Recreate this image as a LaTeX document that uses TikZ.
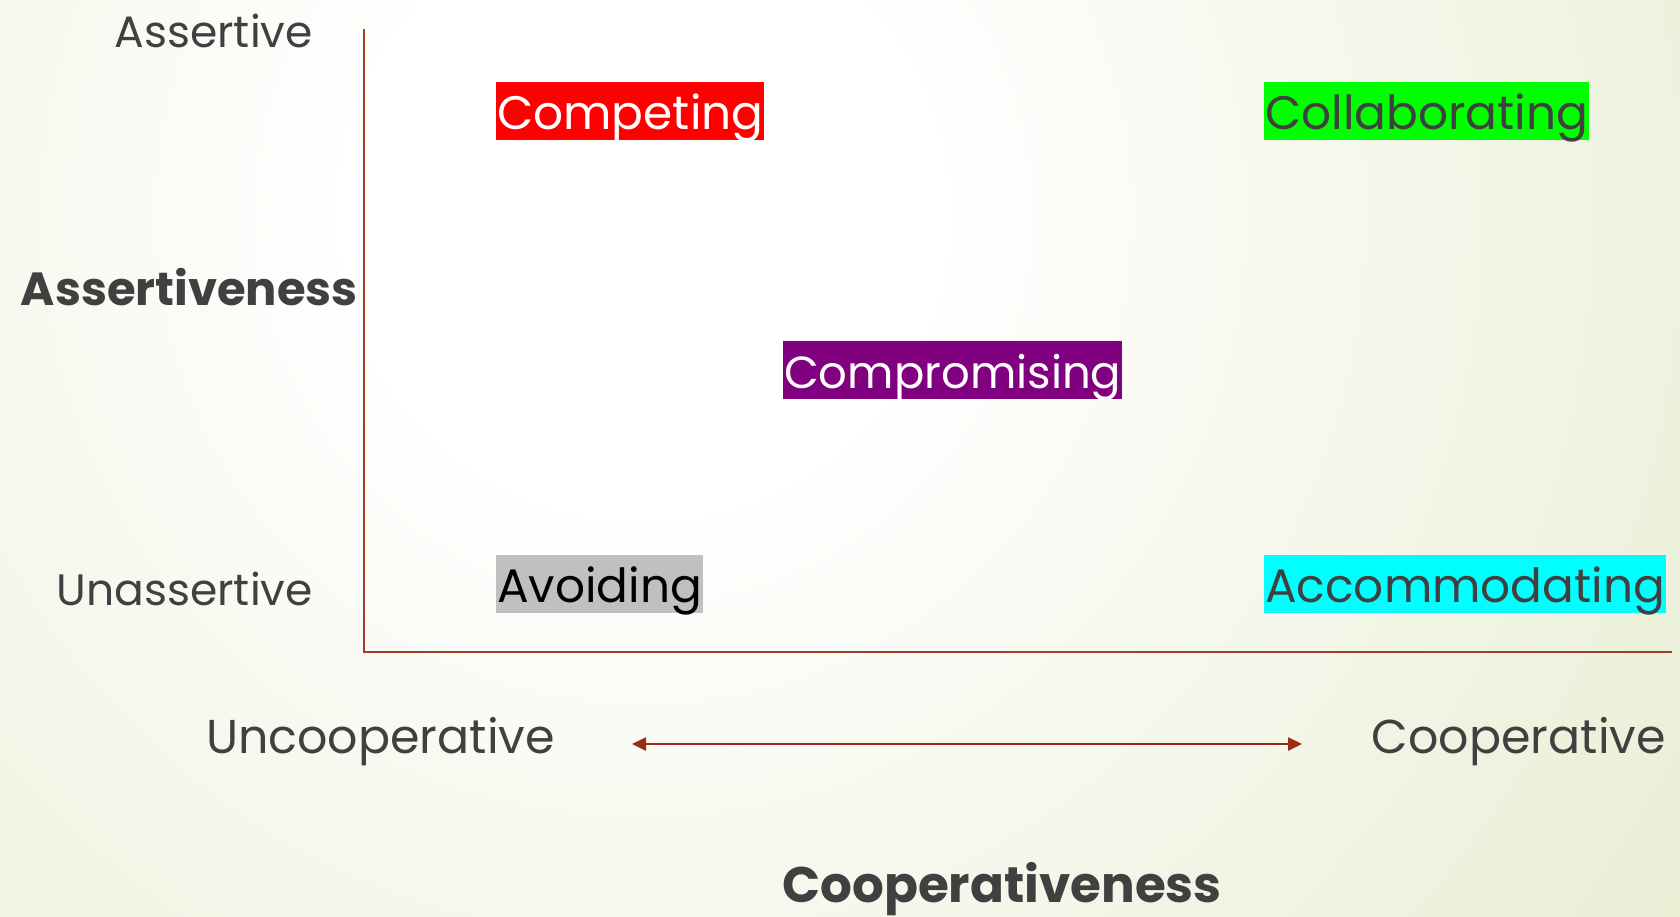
\documentclass[tikz,border=0pt]{standalone}
\usepackage{fontspec}
\setmainfont{Poppins}
\usetikzlibrary{arrows.meta}

\definecolor{ink}{HTML}{404040}
\definecolor{axisred}{HTML}{A63C24}
\definecolor{arrowred}{HTML}{9C2C14}
\definecolor{bgout}{HTML}{DDE6BF}
\definecolor{hlred}{HTML}{FF0000}
\definecolor{hlgreen}{HTML}{00FF00}
\definecolor{hlpurple}{HTML}{800080}
\definecolor{hlgray}{HTML}{C0C0C0}
\definecolor{hlcyan}{HTML}{00FFFF}

% soft white glow fading out to a pale green
\pgfdeclareradialshading{slideglow}{\pgfpoint{0bp}{0bp}}{%
  color(0bp)=(white); color(4bp)=(white); color(25bp)=(bgout); color(50bp)=(bgout)}

\begin{document}
\begin{tikzpicture}[x=1pt,y=-1pt,
  axislabel/.style={font=\fontsize{44}{48}\selectfont, text=ink, inner sep=0pt},
  rangelabel/.style={font=\fontsize{47.5}{52}\selectfont, text=ink, inner sep=0pt},
  axistitle/.style={font=\fontsize{50}{54}\selectfont\bfseries, text=ink, inner sep=0pt},
  modebox/.style={font=\fontsize{47}{52}\selectfont, inner xsep=1pt, inner ysep=0pt,
                  text height=47pt, text depth=11pt, anchor=base west},
  axisline/.style={draw=axisred, line width=2pt},
  rangearrow/.style={draw=arrowred, line width=2.5pt,
                     {Triangle[length=14pt,width=13pt]}-{Triangle[length=14pt,width=13pt]}}
]
\useasboundingbox (0,0) rectangle (1680,916);

% background
\fill[bgout] (0,0) rectangle (1680,916);
\begin{scope}
  \clip (0,0) rectangle (1680,916);
  \shade[shading=slideglow] (643,214) circle (1750);
\end{scope}

% axes
\coordinate (ytop) at (364,29);
\coordinate (orig) at (364,652);
\coordinate (xend) at (1672,652);
\draw[axisline] (ytop) -- (orig) -- (xend);

% vertical axis labels
\node[axislabel, anchor=base east] (assertive) at (313,47) {Assertive};
\node[axistitle, font=\fontsize{46.5}{52}\selectfont\bfseries, anchor=base east] (assertiveness) at (358,305) {Assertiveness};
\node[axislabel, anchor=base east] (unassertive) at (313,605) {Unassertive};

% conflict modes
\node[modebox, fill=hlred, text=white] (competing) at (496,129) {Competing};
\node[modebox, fill=hlgreen, text=ink] (collaborating) at (1264,129) {Collaborating};
\node[modebox, fill=hlpurple, text=white, font=\fontsize{45}{50}\selectfont] (compromising) at (783,388) {Compromising};
\node[modebox, fill=hlgray, text=black] (avoiding) at (496,602) {Avoiding};
\node[modebox, fill=hlcyan, text=ink] (accommodating) at (1264,602) {Accommodating};

% horizontal axis labels
\node[rangelabel, anchor=base east] (uncoop) at (555,753) {Uncooperative};
\node[rangelabel, anchor=base east] (coop) at (1666,753) {Cooperative};
\coordinate (arrowL) at (632,744);
\coordinate (arrowR) at (1302,744);
\draw[rangearrow] (arrowL) -- (arrowR);
\node[axistitle, anchor=base] (cooperativeness) at (1002,902) {Cooperativeness};
\end{tikzpicture}
\end{document}
